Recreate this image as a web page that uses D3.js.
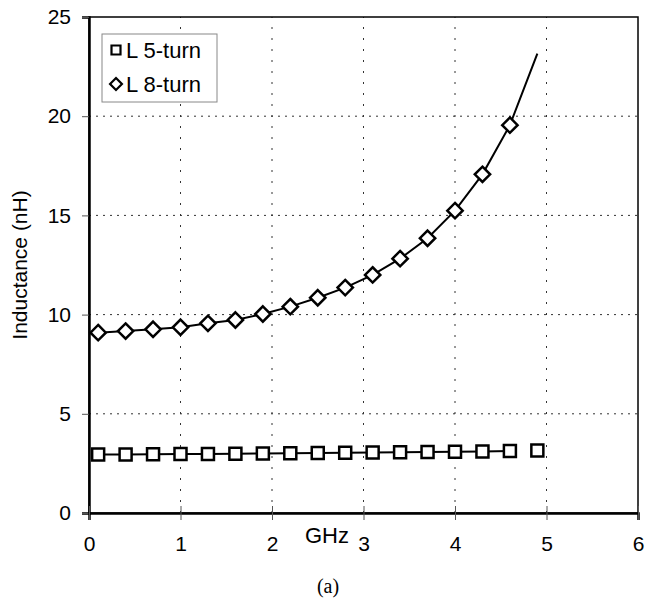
<!DOCTYPE html>
<html><head><meta charset="utf-8">
<script src="https://cdn.jsdelivr.net/npm/d3@7"></script>
<style>
body{margin:0;background:#fff}svg{display:block}
svg text{font-family:"Liberation Sans", Arial, Helvetica, sans-serif}
svg text.serif{font-family:"Liberation Serif", "Times New Roman", Times, serif}
</style>
</head><body>
<svg id="c" width="646" height="599"></svg>
<script>
const freqs = [0.1,0.4,0.7,1.0,1.3,1.6,1.9,2.2,2.5,2.8,3.1,3.4,3.7,4.0,4.3,4.6,4.9];
const L5 = [2.95,2.95,2.96,2.97,2.98,2.99,3.0,3.01,3.02,3.04,3.05,3.06,3.07,3.09,3.1,3.12,3.15];
const L8 = [9.09,9.17,9.26,9.36,9.56,9.73,10.03,10.4,10.85,11.36,12.0,12.82,13.85,15.24,17.07,19.55,23.15];
const xTicks = [0,1,2,3,4,5,6];
const yTicks = [0,5,10,15,20,25];
const seriesNames = ["L 5-turn","L 8-turn"];

const svg = d3.select("#c");
const x = d3.scaleLinear().domain([0,6]).range([89,638]);
const y = d3.scaleLinear().domain([0,25]).range([513,17]);

// gridlines
svg.append("g").selectAll("line").data(yTicks.filter(v=>v>0&&v<25)).join("line")
  .attr("x1",x(0)).attr("x2",x(6)).attr("y1",d=>y(d)).attr("y2",d=>y(d))
  .attr("stroke","#333").attr("stroke-width",1).attr("stroke-dasharray","2,5");
svg.append("g").selectAll("line").data(xTicks.filter(v=>v>0&&v<6)).join("line")
  .attr("y1",y(0)).attr("y2",y(25)).attr("x1",d=>x(d)).attr("x2",d=>x(d))
  .attr("stroke","#333").attr("stroke-width",1).attr("stroke-dasharray","2,9");

// frame
svg.append("rect").attr("x",x(0)).attr("y",y(25)).attr("width",x(6)-x(0)).attr("height",y(0)-y(25))
  .attr("fill","none").attr("stroke","#000").attr("stroke-width",1.5);

// axes
const yAxis = d3.axisLeft(y).tickValues(yTicks).tickFormat(d3.format("d")).tickSize(7).tickPadding(11);
const gy = svg.append("g").attr("transform",`translate(${x(0)},0)`).call(yAxis);
gy.attr("font-family",null).attr("font-size",null);
gy.select(".domain").attr("stroke","#000").attr("stroke-width",2.5);
gy.selectAll(".tick line").attr("stroke","#555");
gy.selectAll("text").attr("font-size",21).attr("fill","#000");

const xAxis = d3.axisBottom(x).tickValues(xTicks).tickFormat(d3.format("d")).tickSize(7).tickPadding(16);
const gx = svg.append("g").attr("transform",`translate(0,${y(0)})`).call(xAxis);
gx.attr("font-family",null).attr("font-size",null);
gx.select(".domain").attr("stroke","#000").attr("stroke-width",2.5);
gx.selectAll(".tick line").attr("y1",-7).attr("stroke","#555");
gx.selectAll("text").attr("font-size",21).attr("fill","#000");

// axis titles
svg.append("text").attr("x",327).attr("y",543).attr("text-anchor","middle")
  .attr("font-size",22).text("GHz");
svg.append("text").attr("transform",`translate(27,265) rotate(-90)`).attr("text-anchor","middle")
  .attr("font-size",21).text("Inductance (nH)");
svg.append("text").attr("class","serif").attr("x",328).attr("y",593).attr("text-anchor","middle")
  .attr("font-size",20).text("(a)");

// lines
const line = d3.line().x(d=>x(d[0])).y(d=>y(d[1]));
const d5 = freqs.map((f,i)=>[f,L5[i]]);
const d8 = freqs.map((f,i)=>[f,L8[i]]);
svg.append("path").attr("d",line(d5.slice(0,16))).attr("fill","none").attr("stroke","#000").attr("stroke-width",2);
svg.append("path").attr("d",line(d8)).attr("fill","none").attr("stroke","#000").attr("stroke-width",2);

// markers
const sq = d3.symbol().type(d3.symbolSquare).size(144);
const di = d3.symbol().type(d3.symbolDiamond2).size(150);
svg.append("g").selectAll("path").data(d5).join("path")
  .attr("d",sq).attr("transform",d=>`translate(${x(d[0])},${y(d[1])})`)
  .attr("fill","#fff").attr("stroke","#000").attr("stroke-width",2.5);
svg.append("g").selectAll("path").data(d8.slice(0,16)).join("path")
  .attr("d",di).attr("transform",d=>`translate(${x(d[0])},${y(d[1])})`)
  .attr("fill","#fff").attr("stroke","#000").attr("stroke-width",2.5);

// legend
const lg = svg.append("g");
lg.append("rect").attr("x",102).attr("y",34).attr("width",115).attr("height",68)
  .attr("fill","#fff").attr("stroke","#888").attr("stroke-width",1);
const ly = [50,84];
lg.append("path").attr("d",d3.symbol().type(d3.symbolSquare).size(81)).attr("transform",`translate(116,${ly[0]})`)
  .attr("fill","#fff").attr("stroke","#000").attr("stroke-width",2.2);
lg.append("path").attr("d",d3.symbol().type(d3.symbolDiamond2).size(90)).attr("transform",`translate(116,${ly[1]})`)
  .attr("fill","#fff").attr("stroke","#000").attr("stroke-width",2.2);
lg.selectAll("text").data(seriesNames).join("text")
  .attr("x",126).attr("y",(d,i)=>ly[i]+8).attr("font-size",22).text(d=>d);
</script>
</body></html>
